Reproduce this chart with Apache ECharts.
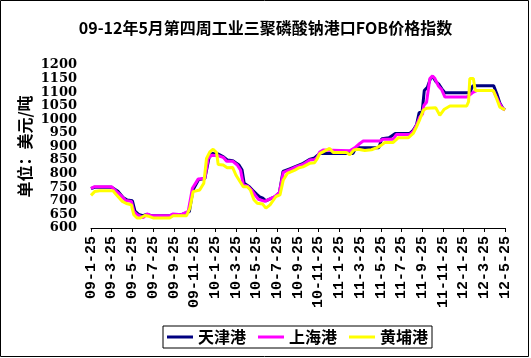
<!DOCTYPE html>
<html>
<head>
<meta charset="utf-8">
<script src="https://cdn.jsdelivr.net/npm/echarts@6/dist/echarts.min.js"></script>
<style>
html,body{margin:0;padding:0;background:#fff;}
#c{width:531px;height:358px;}
</style>
</head>
<body>
<div id="c"></div>
<script>
// Tick labels (every 2 months, x = months since 09-1-25)
var tickLabels = ["09-1-25","09-3-25","09-5-25","09-7-25","09-9-25","09-11-25","10-1-25","10-3-25","10-5-25","10-7-25","10-9-25","10-11-25","11-1-25","11-3-25","11-5-25","11-7-25","11-9-25","11-11-25","12-1-25","12-3-25","12-5-25"];
var seriesNames = ["天津港","上海港","黄埔港"];

// 天津港
var tianjinX = [0,0.35,2.0,2.6,3.1,3.5,4.0,4.25,4.6,5.0,5.4,5.84,7.6,8.0,8.8,9.5,9.85,10.4,11.0,11.4,11.7,12.3,12.8,13.2,13.7,14.3,14.6,14.8,15.3,15.6,16.0,16.3,16.6,16.9,17.3,17.8,18.2,18.55,19.2,19.85,20.5,21.1,21.6,21.9,22.1,25.3,25.6,27.8,28.1,28.8,29.4,30.8,31.1,31.45,31.7,32.0,32.2,32.5,32.8,33.0,33.3,33.6,33.9,34.2,36.6,36.9,38.9,39.2,39.5,39.8,40];
var tianjinY = [745,750,750,735,712,703,700,662,650,645,650,645,645,650,650,660,740,778,782,858,874,872,862,850,848,832,813,765,752,740,725,715,710,700,707,716,730,808,818,828,838,852,858,868,874,874,895,895,929,932,948,948,958,980,1024,1030,1106,1118,1150,1158,1140,1130,1112,1098,1098,1124,1124,1095,1060,1040,1035];

// 上海港
var shanghaiX = [0,0.35,1.97,2.45,2.94,3.35,3.9,4.13,4.45,5.03,5.42,5.84,7.6,7.94,8.74,9.39,9.8,10.35,11.0,11.32,11.65,12.3,12.77,13.1,13.68,14.13,14.45,14.71,15.2,15.5,15.84,16.16,16.8,17.3,17.77,18.19,18.58,19.23,19.87,20.48,21.13,21.6,21.84,22.1,22.42,25.0,25.48,25.97,26.3,27.9,28.23,29.2,29.5,30.8,31.13,31.45,31.77,32.03,32.16,32.42,32.74,33.0,33.23,33.55,33.87,34.2,36.3,36.6,36.94,37.26,38.87,39.13,39.45,39.77,40];
var shanghaiY = [746,752,752,735,718,701,698,662,649,638,652,645,645,652,649,661,746,780,782,856,868,866,860,846,846,832,813,760,752,740,722,706,698,707,716,730,805,815,826,834,850,852,860,880,887,884,895,911,920,920,927,927,944,944,956,978,1009,1020,1051,1063,1150,1160,1150,1124,1110,1082,1082,1090,1100,1106,1106,1085,1060,1040,1035];

// 黄埔港
var huangpuX = [0,0.35,0.84,2.13,2.45,3.03,3.42,3.9,4.13,4.45,4.77,5.2,5.6,6.0,7.6,7.94,9.23,9.55,9.87,10.5,10.9,11.16,11.48,11.8,12.13,12.29,12.77,13.16,13.68,14.0,14.39,14.71,15.1,15.4,15.74,16.06,16.58,16.9,17.3,17.87,18.26,18.58,18.97,19.7,20.1,20.48,21.13,21.6,21.84,22.1,23.06,23.4,24.68,25.0,25.4,25.8,26.45,27.1,27.58,28.06,28.4,29.2,29.68,30.65,31.13,31.45,31.77,32.1,32.42,33.3,33.7,34.1,34.68,36.3,36.48,36.6,36.94,37.13,38.87,39.13,39.5,40];
var huangpuY = [720,734,737,737,722,698,690,685,649,637,637,646,643,637,637,645,645,673,734,740,765,856,880,890,878,834,832,822,823,795,771,752,752,740,704,691,688,673,685,716,722,777,801,813,822,825,838,840,854,874,893,878,878,870,887,890,885,888,895,905,915,915,932,932,948,972,1000,1033,1041,1043,1015,1036,1049,1049,1065,1150,1150,1106,1106,1082,1045,1035];

function pairs(xs, ys){ return xs.map(function(x,i){ return [x, ys[i]]; }); }

var colors = ["#000080","#FF00FF","#FFFF00"];
var dataSets = [pairs(tianjinX,tianjinY), pairs(shanghaiX,shanghaiY), pairs(huangpuX,huangpuY)];

var chart = echarts.init(document.getElementById('c'), null, {renderer:'canvas'});
chart.setOption({
  animation:false,
  backgroundColor:'#fff',
  title:{
    text:"09-12年5月第四周工业三聚磷酸钠港口FOB价格指数",
    left:'center', top:15,
    textStyle:{fontFamily:"Noto Sans CJK SC", fontWeight:"bold", fontSize:16, color:"#000"}
  },
  graphic:[{type:'rect', shape:{x:0.5,y:0.5,width:528,height:356}, style:{fill:'none', stroke:'#000', lineWidth:1}, silent:true}],
  legend:{
    left:163, top:326,
    data:seriesNames,
    icon:'rect', itemWidth:26, itemHeight:3, itemGap:12,
    padding:[3,4],
    borderColor:'#000', borderWidth:1,
    textStyle:{fontFamily:"Noto Sans CJK SC", fontWeight:"bold", fontSize:16, color:"#000"}
  },
  grid:{left:91, right:26, top:65, bottom:130},
  xAxis:{
    type:'value', min:0, max:40, interval:2,
    axisLine:{show:true, lineStyle:{color:'#000', width:1}},
    axisTick:{show:true, length:4, lineStyle:{color:'#000'}},
    splitLine:{show:false},
    axisLabel:{rotate:90, margin:8, showMinLabel:true, showMaxLabel:true,
      fontFamily:"Liberation Mono", fontWeight:"bold", fontSize:15, color:"#000",
      formatter:function(v){ return tickLabels[Math.round(v/2)] || ''; }}
  },
  yAxis:{
    type:'value', min:600, max:1200, interval:50,
    name:"单位：美元/吨", nameLocation:'middle', nameRotate:90, nameGap:58, nameMoveOverlap:false,
    nameTextStyle:{fontFamily:"Noto Sans CJK SC", fontWeight:"bold", fontSize:16, color:"#000"},
    axisLine:{show:false}, axisTick:{show:false}, splitLine:{show:false},
    axisLabel:{margin:14, fontFamily:"DejaVu Serif", fontWeight:"bold", fontSize:13, color:"#000",
      formatter:function(v){ return String(v); }}
  },
  series:seriesNames.map(function(n,i){
    return {name:n, type:'line', data:dataSets[i], showSymbol:false, symbol:'none',
      color:colors[i], lineStyle:{color:colors[i], width:3}, z:2+i};
  })
});
</script>
</body>
</html>
